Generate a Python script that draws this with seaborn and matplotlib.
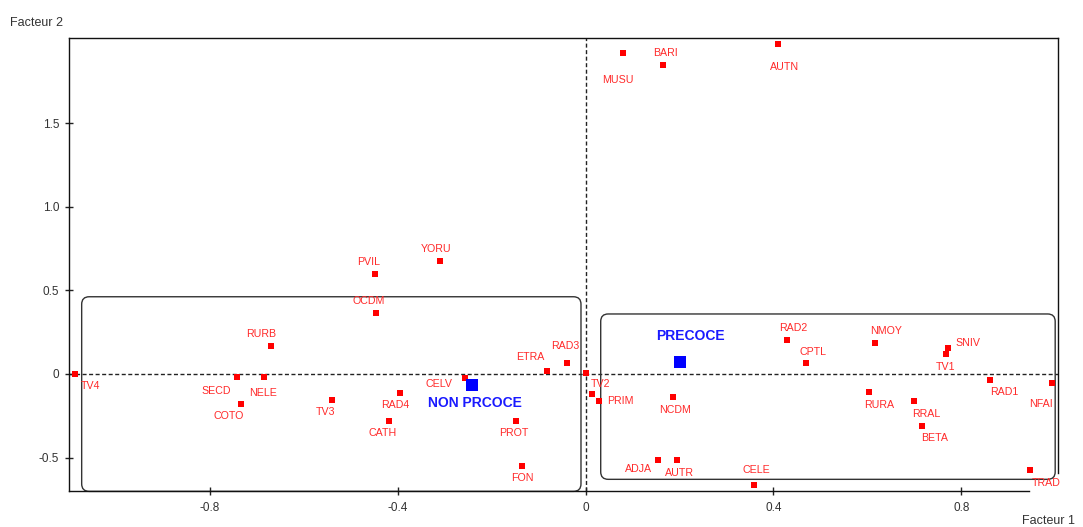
import matplotlib
matplotlib.use("Agg")
import matplotlib.pyplot as plt
from matplotlib.patches import FancyBboxPatch
import seaborn as sns
import pandas as pd

# ---- data -------------------------------------------------------------
mod_labels = ["TV4", "RURB", "SECD", "NELE", "COTO", "TV3", "PVIL", "YORU", "OCDM",
              "RAD4", "CATH", "CELV", "PROT", "FON", "ETRA", "RAD3", "TV2", "", "PRIM",
              "RAD2", "CPTL", "NMOY", "SNIV", "TV1", "RAD1", "NFAI", "RURA", "RRAL",
              "BETA", "NCDM", "ADJA", "AUTR", "CELE", "TRAD", "MUSU", "BARI", "AUTN"]
mod_f1 = [-1.087, -0.671, -0.742, -0.686, -0.735, -0.541, -0.449, -0.310, -0.447,
          -0.395, -0.419, -0.256, -0.148, -0.135, -0.083, -0.040, 0.000, 0.014, 0.029,
          0.428, 0.470, 0.616, 0.772, 0.767, 0.862, 0.993, 0.603, 0.699,
          0.716, 0.185, 0.154, 0.194, 0.358, 0.947, 0.080, 0.165, 0.410]
mod_f2 = [0.000, 0.166, -0.020, -0.020, -0.181, -0.154, 0.598, 0.676, 0.365,
          -0.114, -0.281, -0.026, -0.279, -0.552, 0.020, 0.066, 0.003, -0.122, -0.160,
          0.205, 0.066, 0.185, 0.154, 0.120, -0.034, -0.054, -0.106, -0.160,
          -0.313, -0.140, -0.516, -0.512, -0.664, -0.572, 1.920, 1.846, 1.974]

grp_labels = ["NON PRCOCE", "PRECOCE"]
grp_f1 = [-0.243, 0.200]
grp_f2 = [-0.066, 0.072]

x_ticks = [-0.8, -0.4, 0, 0.4, 0.8]
x_tick_labels = ["-0.8", "-0.4", "0", "0.4", "0.8"]
y_ticks = [-0.5, 0, 0.5, 1.0, 1.5]
y_tick_labels = ["-0.5", "0", "0.5", "1.0", "1.5"]

# ---- layout (label offsets in pixels, +x right, +y down) --------------
offsets = {
    "TV4": (15, 12), "RURB": (-10, -12), "SECD": (-21, 14), "NELE": (-1, 16),
    "COTO": (-12, 12), "TV3": (-6, 12), "PVIL": (-6, -12), "YORU": (-4, -12),
    "OCDM": (-7, -12), "RAD4": (-5, 12), "CATH": (-6, 12), "CELV": (-26, 6),
    "PROT": (-2, 12), "FON": (0, 12), "ETRA": (-16, -14), "RAD3": (-2, -17),
    "TV2": (15, 11), "PRIM": (21, 0), "RAD2": (7, -12), "CPTL": (7, -11),
    "NMOY": (11, -12), "SNIV": (20, -5), "TV1": (0, 13), "RAD1": (14, 12),
    "NFAI": (-11, 21), "RURA": (10, 13), "RRAL": (12, 13), "BETA": (13, 12),
    "NCDM": (3, 13), "ADJA": (-19, 9), "AUTR": (3, 13), "CELE": (3, -15),
    "TRAD": (16, 13), "MUSU": (-5, 27), "BARI": (2, -12), "AUTN": (6, 23),
    "NON PRCOCE": (3, 18), "PRECOCE": (11, -26),
}

plt.rcParams["font.family"] = ["Liberation Sans", "DejaVu Sans"]

fig = plt.figure(figsize=(10.83, 5.27), dpi=100)
ax = fig.add_axes([69 / 1083, 1 - 490.7 / 527, (1058 - 69) / 1083, (490.7 - 38) / 527])

XMIN, XMAX = -1.1005, 1.006
YMIN, YMAX = -0.698, 2.0096
ax.set_xlim(XMIN, XMAX)
ax.set_ylim(YMIN, YMAX)

# dashed axes through origin
ax.axhline(0, color="#222222", lw=1.0, ls=(0, (2.9, 1.8)), zorder=1)
ax.axvline(0, color="#222222", lw=1.0, ls=(0, (2.9, 1.8)), zorder=1)

# rounded group boxes (data coords, rounding corrected for aspect)
aspect = 469.5 / 167.2
for (x0, x1, y0, y1) in [(-1.0735, -0.010, -0.702, 0.462), (0.032, 1.000, -0.630, 0.359)]:
    box = FancyBboxPatch((x0, y0), x1 - x0, y1 - y0,
                         boxstyle="round,pad=0,rounding_size=0.016",
                         mutation_aspect=aspect, fill=False, ec="#333333", lw=1.0,
                         clip_on=False, zorder=2)
    ax.add_patch(box)

mods = pd.DataFrame({"f1": mod_f1, "f2": mod_f2, "label": mod_labels})
grps = pd.DataFrame({"f1": grp_f1, "f2": grp_f2, "label": grp_labels})

sns.scatterplot(data=mods, x="f1", y="f2", marker="s", s=22, color="#ff0000",
                linewidth=0, ax=ax, zorder=3, legend=False)
sns.scatterplot(data=grps, x="f1", y="f2", marker="s", s=80, color="#0000ff",
                linewidth=0, ax=ax, zorder=3, legend=False)

for _, r in mods.iterrows():
    if not r["label"]:
        continue
    dx, dy = offsets[r["label"]]
    ax.annotate(r["label"], (r["f1"], r["f2"]), xytext=(dx, -dy),
                textcoords="offset pixels", ha="center", va="center",
                color="#ff2a2a", fontsize=7.7, zorder=4, annotation_clip=False)
for _, r in grps.iterrows():
    dx, dy = offsets[r["label"]]
    ax.annotate(r["label"], (r["f1"], r["f2"]), xytext=(dx, -dy),
                textcoords="offset pixels", ha="center", va="center",
                color="#1a1aff", fontsize=10, fontweight="bold", zorder=4)

# spines
for s in ax.spines.values():
    s.set_color("#111111")
    s.set_linewidth(1.0)
ax.spines["bottom"].set_bounds(XMIN, 0.944)
ax.spines["right"].set_bounds(-0.59, YMAX)

ax.set_xticks(x_ticks)
ax.set_xticklabels(x_tick_labels)
ax.set_yticks(y_ticks)
ax.set_yticklabels(y_tick_labels)
ax.tick_params(direction="inout", length=6, width=1, color="#222222",
               labelsize=8.5, labelcolor="#333333", pad=4)
ax.tick_params(axis="x", pad=5)
ax.set_xlabel("")
ax.set_ylabel("")

fig.text(10 / 1083, 1 - 22.5 / 527, "Facteur 2", fontsize=9, color="#333333",
         ha="left", va="center")
fig.text(1022 / 1083, 1 - 521 / 527, "Facteur 1", fontsize=9, color="#333333",
         ha="left", va="center")

fig.savefig("out.png", dpi=100)
